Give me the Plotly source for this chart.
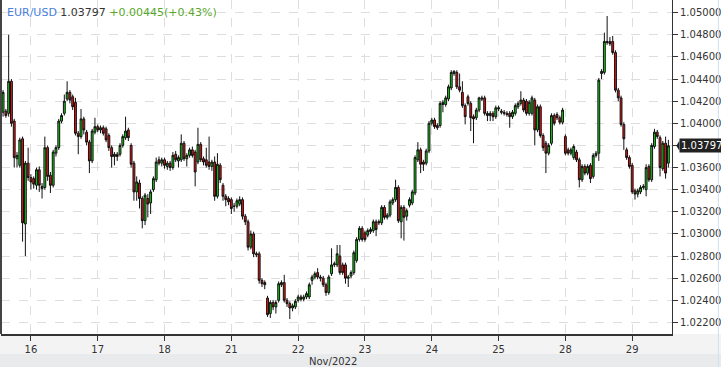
import plotly.graph_objects as go

symbol = "EUR/USD"
last_price = 1.03797
change = 0.00445
change_pct = 0.43
month_label = "Nov/2022"

# Hourly candles: (open, high, low, close)
nov15 = [  # from 13:00
    (1.0427, 1.0431, 1.0405, 1.0410), (1.0410, 1.0430, 1.0406, 1.0428), (1.0411, 1.0413, 1.0405, 1.0407),
    (1.0409, 1.0480, 1.0406, 1.0438), (1.0438, 1.0440, 1.0397, 1.0400), (1.0402, 1.0404, 1.0360, 1.0369),
    (1.0368, 1.0374, 1.0360, 1.0371), (1.0362, 1.0387, 1.0360, 1.0385), (1.0386, 1.0388, 1.0293, 1.0310),
    (1.0309, 1.0366, 1.0280, 1.0364), (1.0364, 1.0378, 1.0348, 1.0351),
]
nov16 = [
    (1.0351, 1.0354, 1.0340, 1.0347), (1.0350, 1.0352, 1.0341, 1.0345), (1.0344, 1.0360, 1.0340, 1.0358),
    (1.0358, 1.0361, 1.0338, 1.0344), (1.0341, 1.0346, 1.0332, 1.0343), (1.0342, 1.0388, 1.0340, 1.0378),
    (1.0378, 1.0380, 1.0348, 1.0352), (1.0353, 1.0356, 1.0337, 1.0344), (1.0344, 1.0376, 1.0342, 1.0374),
    (1.0373, 1.0380, 1.0370, 1.0378), (1.0378, 1.0404, 1.0376, 1.0402), (1.0402, 1.0409, 1.0400, 1.0407),
    (1.0409, 1.0426, 1.0407, 1.0420), (1.0422, 1.0438, 1.0420, 1.0428), (1.0428, 1.0430, 1.0418, 1.0421),
    (1.0424, 1.0426, 1.0412, 1.0415), (1.0419, 1.0423, 1.0389, 1.0391), (1.0391, 1.0393, 1.0372, 1.0388),
    (1.0388, 1.0413, 1.0386, 1.0404), (1.0404, 1.0406, 1.0390, 1.0394), (1.0392, 1.0394, 1.0380, 1.0383),
    (1.0383, 1.0385, 1.0355, 1.0366), (1.0366, 1.0395, 1.0364, 1.0393), (1.0392, 1.0405, 1.0390, 1.0397),
]
nov17 = [
    (1.0397, 1.0399, 1.0392, 1.0394), (1.0394, 1.0398, 1.0391, 1.0396), (1.0396, 1.0398, 1.0389, 1.0391),
    (1.0395, 1.0397, 1.0383, 1.0385), (1.0389, 1.0391, 1.0375, 1.0378), (1.0378, 1.0380, 1.0360, 1.0370),
    (1.0370, 1.0374, 1.0362, 1.0372), (1.0372, 1.0374, 1.0366, 1.0370), (1.0372, 1.0382, 1.0370, 1.0380),
    (1.0380, 1.0390, 1.0378, 1.0388), (1.0387, 1.0406, 1.0385, 1.0393), (1.0394, 1.0396, 1.0384, 1.0387),
    (1.0380, 1.0382, 1.0360, 1.0363), (1.0364, 1.0366, 1.0330, 1.0338), (1.0338, 1.0352, 1.0330, 1.0347),
    (1.0346, 1.0349, 1.0323, 1.0332), (1.0332, 1.0334, 1.0305, 1.0312), (1.0312, 1.0337, 1.0308, 1.0335),
    (1.0332, 1.0336, 1.0315, 1.0327), (1.0328, 1.0340, 1.0318, 1.0338), (1.0340, 1.0352, 1.0338, 1.0350),
    (1.0349, 1.0369, 1.0347, 1.0365), (1.0367, 1.0370, 1.0362, 1.0364), (1.0364, 1.0369, 1.0361, 1.0367),
]
nov18 = [
    (1.0367, 1.0369, 1.0359, 1.0362), (1.0361, 1.0366, 1.0358, 1.0364), (1.0364, 1.0366, 1.0357, 1.0360),
    (1.0360, 1.0374, 1.0358, 1.0371), (1.0372, 1.0375, 1.0365, 1.0367), (1.0366, 1.0371, 1.0360, 1.0369),
    (1.0367, 1.0390, 1.0365, 1.0382), (1.0382, 1.0384, 1.0366, 1.0368), (1.0368, 1.0373, 1.0361, 1.0371),
    (1.0371, 1.0378, 1.0369, 1.0376), (1.0376, 1.0379, 1.0369, 1.0371), (1.0374, 1.0376, 1.0343, 1.0356),
    (1.0365, 1.0396, 1.0363, 1.0381), (1.0381, 1.0383, 1.0365, 1.0367), (1.0368, 1.0370, 1.0362, 1.0365),
    (1.0367, 1.0378, 1.0360, 1.0362), (1.0365, 1.0388, 1.0358, 1.0361), (1.0361, 1.0367, 1.0357, 1.0365),
    (1.0365, 1.0370, 1.0330, 1.0334), (1.0334, 1.0373, 1.0332, 1.0363), (1.0362, 1.0364, 1.0346, 1.0349),
    (1.0344, 1.0346, 1.0330, 1.0334), (1.0334, 1.0336, 1.0325, 1.0331), (1.0332, 1.0334, 1.0326, 1.0329),
]
nov21 = [
    (1.0331, 1.0333, 1.0318, 1.0323), (1.0325, 1.0328, 1.0320, 1.0325), (1.0325, 1.0332, 1.0323, 1.0330),
    (1.0327, 1.0334, 1.0325, 1.0331), (1.0331, 1.0333, 1.0313, 1.0316), (1.0316, 1.0318, 1.0308, 1.0311),
    (1.0311, 1.0313, 1.0285, 1.0288), (1.0288, 1.0303, 1.0286, 1.0300), (1.0300, 1.0302, 1.0279, 1.0282),
    (1.0281, 1.0284, 1.0279, 1.0282), (1.0282, 1.0284, 1.0255, 1.0258), (1.0258, 1.0260, 1.0252, 1.0255),
    (1.0256, 1.0258, 1.0250, 1.0254), (1.0242, 1.0244, 1.0225, 1.0227), (1.0228, 1.0240, 1.0224, 1.0238),
    (1.0238, 1.0240, 1.0231, 1.0234), (1.0234, 1.0240, 1.0228, 1.0238), (1.0240, 1.0257, 1.0238, 1.0255),
    (1.0254, 1.0258, 1.0252, 1.0256), (1.0256, 1.0263, 1.0238, 1.0240), (1.0240, 1.0242, 1.0234, 1.0237),
    (1.0237, 1.0239, 1.0223, 1.0233), (1.0233, 1.0237, 1.0230, 1.0235), (1.0234, 1.0241, 1.0232, 1.0239),
]
nov22 = [
    (1.0240, 1.0245, 1.0238, 1.0243), (1.0243, 1.0245, 1.0239, 1.0241), (1.0241, 1.0245, 1.0239, 1.0243),
    (1.0243, 1.0248, 1.0241, 1.0246), (1.0243, 1.0256, 1.0241, 1.0254), (1.0258, 1.0263, 1.0254, 1.0261),
    (1.0261, 1.0266, 1.0259, 1.0264), (1.0265, 1.0269, 1.0259, 1.0261), (1.0261, 1.0263, 1.0257, 1.0260),
    (1.0260, 1.0262, 1.0252, 1.0254), (1.0254, 1.0256, 1.0244, 1.0247), (1.0247, 1.0263, 1.0245, 1.0261),
    (1.0264, 1.0287, 1.0262, 1.0272), (1.0272, 1.0275, 1.0270, 1.0273), (1.0272, 1.0290, 1.0270, 1.0282),
    (1.0280, 1.0290, 1.0263, 1.0265), (1.0272, 1.0274, 1.0263, 1.0265), (1.0272, 1.0274, 1.0255, 1.0260),
    (1.0260, 1.0263, 1.0252, 1.0261), (1.0262, 1.0267, 1.0260, 1.0265), (1.0265, 1.0285, 1.0263, 1.0283),
    (1.0276, 1.0297, 1.0274, 1.0295), (1.0295, 1.0307, 1.0293, 1.0305), (1.0305, 1.0307, 1.0293, 1.0295),
]
nov23 = [
    (1.0301, 1.0303, 1.0293, 1.0295), (1.0299, 1.0305, 1.0297, 1.0303), (1.0302, 1.0306, 1.0300, 1.0304),
    (1.0303, 1.0313, 1.0301, 1.0311), (1.0311, 1.0313, 1.0298, 1.0304), (1.0310, 1.0313, 1.0308, 1.0311),
    (1.0310, 1.0326, 1.0308, 1.0324), (1.0324, 1.0326, 1.0313, 1.0315), (1.0315, 1.0319, 1.0313, 1.0317),
    (1.0317, 1.0331, 1.0315, 1.0329), (1.0328, 1.0333, 1.0326, 1.0331), (1.0331, 1.0349, 1.0329, 1.0342),
    (1.0342, 1.0344, 1.0310, 1.0312), (1.0311, 1.0326, 1.0296, 1.0324), (1.0324, 1.0326, 1.0294, 1.0315),
    (1.0316, 1.0323, 1.0312, 1.0321), (1.0326, 1.0333, 1.0324, 1.0331), (1.0328, 1.0340, 1.0326, 1.0338),
    (1.0337, 1.0371, 1.0335, 1.0369), (1.0367, 1.0383, 1.0365, 1.0376), (1.0376, 1.0378, 1.0355, 1.0363),
    (1.0365, 1.0367, 1.0357, 1.0363), (1.0364, 1.0377, 1.0362, 1.0375), (1.0375, 1.0402, 1.0373, 1.0400),
]
nov24 = [
    (1.0400, 1.0405, 1.0398, 1.0403), (1.0403, 1.0405, 1.0395, 1.0397), (1.0398, 1.0400, 1.0394, 1.0396),
    (1.0398, 1.0420, 1.0396, 1.0418), (1.0417, 1.0421, 1.0410, 1.0419), (1.0417, 1.0425, 1.0415, 1.0423),
    (1.0422, 1.0435, 1.0420, 1.0433), (1.0432, 1.0448, 1.0430, 1.0446), (1.0445, 1.0448, 1.0443, 1.0447),
    (1.0446, 1.0448, 1.0431, 1.0433), (1.0433, 1.0445, 1.0428, 1.0430), (1.0428, 1.0438, 1.0414, 1.0416),
    (1.0416, 1.0418, 1.0399, 1.0406), (1.0424, 1.0426, 1.0416, 1.0418), (1.0418, 1.0420, 1.0393, 1.0405),
    (1.0406, 1.0408, 1.0382, 1.0404), (1.0405, 1.0414, 1.0403, 1.0412), (1.0412, 1.0424, 1.0410, 1.0423),
    (1.0423, 1.0425, 1.0420, 1.0422), (1.0423, 1.0425, 1.0407, 1.0409), (1.0409, 1.0411, 1.0402, 1.0407),
    (1.0407, 1.0411, 1.0402, 1.0409), (1.0409, 1.0411, 1.0402, 1.0406), (1.0406, 1.0416, 1.0404, 1.0414),
]
nov25 = [
    (1.0413, 1.0416, 1.0411, 1.0414), (1.0411, 1.0413, 1.0408, 1.0410), (1.0410, 1.0412, 1.0407, 1.0409),
    (1.0409, 1.0411, 1.0406, 1.0408), (1.0409, 1.0411, 1.0396, 1.0406), (1.0406, 1.0412, 1.0404, 1.0410),
    (1.0409, 1.0418, 1.0407, 1.0416), (1.0415, 1.0420, 1.0413, 1.0418), (1.0418, 1.0429, 1.0416, 1.0421),
    (1.0421, 1.0423, 1.0410, 1.0412), (1.0420, 1.0422, 1.0407, 1.0409), (1.0409, 1.0421, 1.0407, 1.0419),
    (1.0409, 1.0425, 1.0407, 1.0423), (1.0421, 1.0423, 1.0380, 1.0394), (1.0394, 1.0417, 1.0392, 1.0415),
    (1.0415, 1.0417, 1.0387, 1.0389), (1.0389, 1.0391, 1.0375, 1.0378), (1.0382, 1.0384, 1.0355, 1.0373),
    (1.0373, 1.0382, 1.0371, 1.0380), (1.0382, 1.0409, 1.0380, 1.0407), (1.0407, 1.0409, 1.0398, 1.0400),
    (1.0408, 1.0410, 1.0403, 1.0405), (1.0405, 1.0407, 1.0399, 1.0401), (1.0401, 1.0414, 1.0399, 1.0412),
]
nov28 = [
    (1.0388, 1.0390, 1.0371, 1.0373), (1.0376, 1.0378, 1.0371, 1.0373), (1.0373, 1.0378, 1.0371, 1.0376),
    (1.0369, 1.0381, 1.0367, 1.0379), (1.0374, 1.0376, 1.0365, 1.0367), (1.0367, 1.0369, 1.0342, 1.0349),
    (1.0349, 1.0363, 1.0347, 1.0361), (1.0361, 1.0363, 1.0353, 1.0355), (1.0355, 1.0363, 1.0353, 1.0361),
    (1.0362, 1.0364, 1.0346, 1.0350), (1.0352, 1.0373, 1.0350, 1.0371), (1.0371, 1.0375, 1.0369, 1.0373),
    (1.0373, 1.0441, 1.0366, 1.0439), (1.0445, 1.0449, 1.0440, 1.0447), (1.0446, 1.0482, 1.0444, 1.0474),
    (1.0474, 1.0497, 1.0471, 1.0473), (1.0474, 1.0478, 1.0470, 1.0472), (1.0474, 1.0479, 1.0462, 1.0464),
    (1.0464, 1.0466, 1.0428, 1.0430), (1.0430, 1.0432, 1.0420, 1.0423), (1.0423, 1.0425, 1.0397, 1.0399),
    (1.0399, 1.0401, 1.0376, 1.0386), (1.0376, 1.0378, 1.0367, 1.0369), (1.0369, 1.0371, 1.0359, 1.0361),
]
nov29 = [  # to 13:00
    (1.0362, 1.0364, 1.0336, 1.0338), (1.0339, 1.0341, 1.0331, 1.0336), (1.0336, 1.0341, 1.0333, 1.0339),
    (1.0338, 1.0344, 1.0336, 1.0342), (1.0342, 1.0345, 1.0340, 1.0343), (1.0340, 1.0363, 1.0334, 1.0360),
    (1.0361, 1.0363, 1.0347, 1.0349), (1.0349, 1.0382, 1.0347, 1.0380), (1.0379, 1.0395, 1.0377, 1.0392),
    (1.0392, 1.0394, 1.0386, 1.0388), (1.0387, 1.0389, 1.0352, 1.0360), (1.0359, 1.0384, 1.0357, 1.0382),
    (1.0382, 1.0388, 1.0350, 1.0355), (1.0364, 1.0385, 1.0360, 1.03797),
]

days = [("15", nov15), ("16", nov16), ("17", nov17), ("18", nov18), ("21", nov21),
        ("22", nov22), ("23", nov23), ("24", nov24), ("25", nov25), ("28", nov28), ("29", nov29)]
y_ticks = [1.022, 1.024, 1.026, 1.028, 1.030, 1.032, 1.034, 1.036, 1.038,
           1.040, 1.042, 1.044, 1.046, 1.048, 1.050]

candles, tickvals, ticktext = [], [], []
for label, rows in days:
    if label != "15":  # first day starts mid-session, no tick
        tickvals.append(len(candles))
        ticktext.append(label)
    candles.extend(rows)
xs = list(range(len(candles)))

fig = go.Figure(go.Candlestick(
    x=xs,
    open=[c[0] for c in candles], high=[c[1] for c in candles],
    low=[c[2] for c in candles], close=[c[3] for c in candles],
    increasing=dict(fillcolor="#11d611", line=dict(color="#111111", width=1)),
    decreasing=dict(fillcolor="#ee1111", line=dict(color="#111111", width=1)),
    hoverinfo="skip", showlegend=False,
))

grid = "#dedede"
fig.update_layout(
    width=721, height=367,
    margin=dict(l=1, r=47, t=0, b=33),
    paper_bgcolor="white", plot_bgcolor="white",
    font=dict(family="DejaVu Sans", size=10, color="#333333"),
    showlegend=False,
    boxgap=0.05,
    xaxis=dict(
        range=[0.25, len(candles) + 0.3],
        tickvals=tickvals, ticktext=ticktext,
        showgrid=True, gridcolor=grid, griddash="dash", gridwidth=1,
        showline=True, linecolor="#333333", linewidth=2,
        ticks="outside", ticklen=5, tickcolor="#333333",
        zeroline=False, rangeslider=dict(visible=False),
        tickfont=dict(size=10, color="#333333"),
    ),
    yaxis=dict(
        side="right", range=[1.02095, 1.05115],
        tickvals=y_ticks, tickformat=".5f",
        showgrid=True, gridcolor=grid, griddash="dash", gridwidth=1,
        showline=True, linecolor="#333333", linewidth=1,
        ticks="outside", ticklen=5, tickcolor="#333333",
        zeroline=False, tickfont=dict(size=10, color="#333333"),
    ),
    shapes=[
        dict(type="rect", xref="paper", yref="paper", x0=-0.01, x1=1.08, y0=-0.06, y1=0,
             fillcolor="#f3f3f4", line=dict(width=0), layer="below"),
        dict(type="rect", xref="paper", yref="paper", x0=-0.01, x1=1.08, y0=-0.11, y1=-0.06,
             fillcolor="#e9eaec", line=dict(width=0), layer="below"),
        dict(type="line", xref="paper", yref="paper", x0=0, x1=0, y0=0, y1=1,
             line=dict(color="#444444", width=2)),
        dict(type="line", xref="paper", yref="paper", x0=1.0691, x1=1.0691, y0=-0.1, y1=1,
             line=dict(color="#cfe0f2", width=1)),
        dict(type="path", xref="paper", yref="y",
             path=f"M 1.0065,{last_price} L 1.0110,{last_price + 0.00045} L 1.0110,{last_price - 0.00045} Z",
             fillcolor="#222222", line=dict(width=0)),
    ],
    annotations=[
        dict(xref="paper", yref="paper", x=0.006, y=0.964, xanchor="left", yanchor="middle",
             showarrow=False, font=dict(family="DejaVu Sans", size=11),
             text=(f"<span style='color:#4a7fdc'>{symbol}</span> "
                   f"<span style='color:#333333'>{last_price:.5f}</span> "
                   f"<span style='color:#58a82a'>+{change:.5f}(+{change_pct:.2f}%)</span>")),
        dict(xref="paper", yref="y", x=1.0105, y=last_price, xanchor="left", yanchor="middle",
             showarrow=False, text=f"{last_price:.5f}", bgcolor="#222222", borderpad=1,
             font=dict(family="DejaVu Sans", size=10, color="white")),
        dict(xref="paper", yref="paper", x=0.495, y=-0.081, xanchor="center", yanchor="middle",
             showarrow=False, text=month_label, font=dict(family="DejaVu Sans", size=10, color="#333333")),
    ],
)

fig.write_html("out.html")
